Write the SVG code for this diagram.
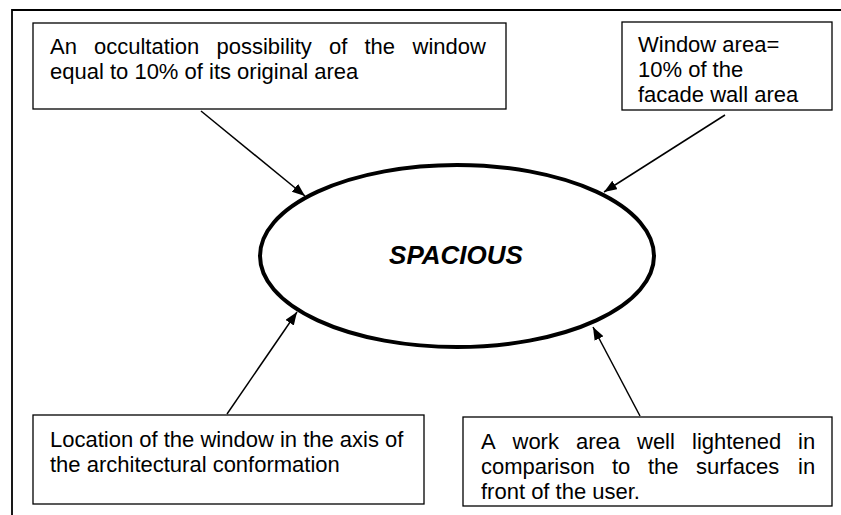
<svg xmlns="http://www.w3.org/2000/svg" width="841" height="515" viewBox="0 0 841 515">
<style>
.box{fill:#fff;stroke:#000;stroke-width:1.3}
.t{font-family:"Liberation Sans",Arial,sans-serif;font-size:22px;fill:#000}
.c{stroke:#000;stroke-width:1.5;fill:none}
</style>
<defs>
<marker id="ah" markerUnits="userSpaceOnUse" markerWidth="14" markerHeight="12" refX="13" refY="5" orient="auto">
<path d="M0,0 L13,5 L0,10 z" fill="#000"/>
</marker>
</defs>
<rect width="841" height="515" fill="#fff"/>
<path d="M12,515 V10 H841" fill="none" stroke="#000" stroke-width="1.8"/>

<g id="n1">
<rect class="box" x="33" y="23" width="473" height="86"/>
<text class="t" y="54"><tspan x="50">An</tspan><tspan x="94">occultation</tspan><tspan x="216.5">possibility</tspan><tspan x="329">of</tspan><tspan x="364.5">the</tspan><tspan x="412.5">window</tspan></text>
<text class="t" x="50" y="79">equal to 10% of its original area</text>
</g>

<g id="n2">
<rect class="box" x="622" y="22" width="210" height="88"/>
<text class="t" x="638" y="52">Window area=</text>
<text class="t" x="638" y="77">10% of the</text>
<text class="t" x="638" y="102">facade wall area</text>
</g>

<g id="n3">
<rect class="box" x="33" y="415" width="391" height="89"/>
<text class="t" x="50" y="447">Location of the window in the axis of</text>
<text class="t" x="50" y="472">the architectural conformation</text>
</g>

<g id="n4">
<rect class="box" x="463" y="417" width="369" height="89"/>
<text class="t" y="449"><tspan x="481">A</tspan><tspan x="512.5">work</tspan><tspan x="576">area</tspan><tspan x="637">well</tspan><tspan x="692">lightened</tspan><tspan x="798">in</tspan></text>
<text class="t" y="474"><tspan x="481">comparison</tspan><tspan x="612">to</tspan><tspan x="648">the</tspan><tspan x="696">surfaces</tspan><tspan x="798">in</tspan></text>
<text class="t" x="481" y="499">front of the user.</text>
</g>

<g id="center">
<ellipse cx="457" cy="256" rx="197" ry="91" fill="#fff" stroke="#000" stroke-width="4"/>
<text x="456" y="264" text-anchor="middle" font-family="Liberation Sans,Arial,sans-serif" font-size="26" font-weight="bold" font-style="italic">SPACIOUS</text>
</g>

<g id="connectors">
<line class="c" x1="201" y1="111" x2="305" y2="196" marker-end="url(#ah)"/>
<line class="c" x1="725" y1="115" x2="604" y2="192" marker-end="url(#ah)"/>
<line class="c" x1="227" y1="414" x2="297" y2="312" marker-end="url(#ah)"/>
<line class="c" x1="640" y1="416" x2="593" y2="327" marker-end="url(#ah)"/>
</g>
</svg>
